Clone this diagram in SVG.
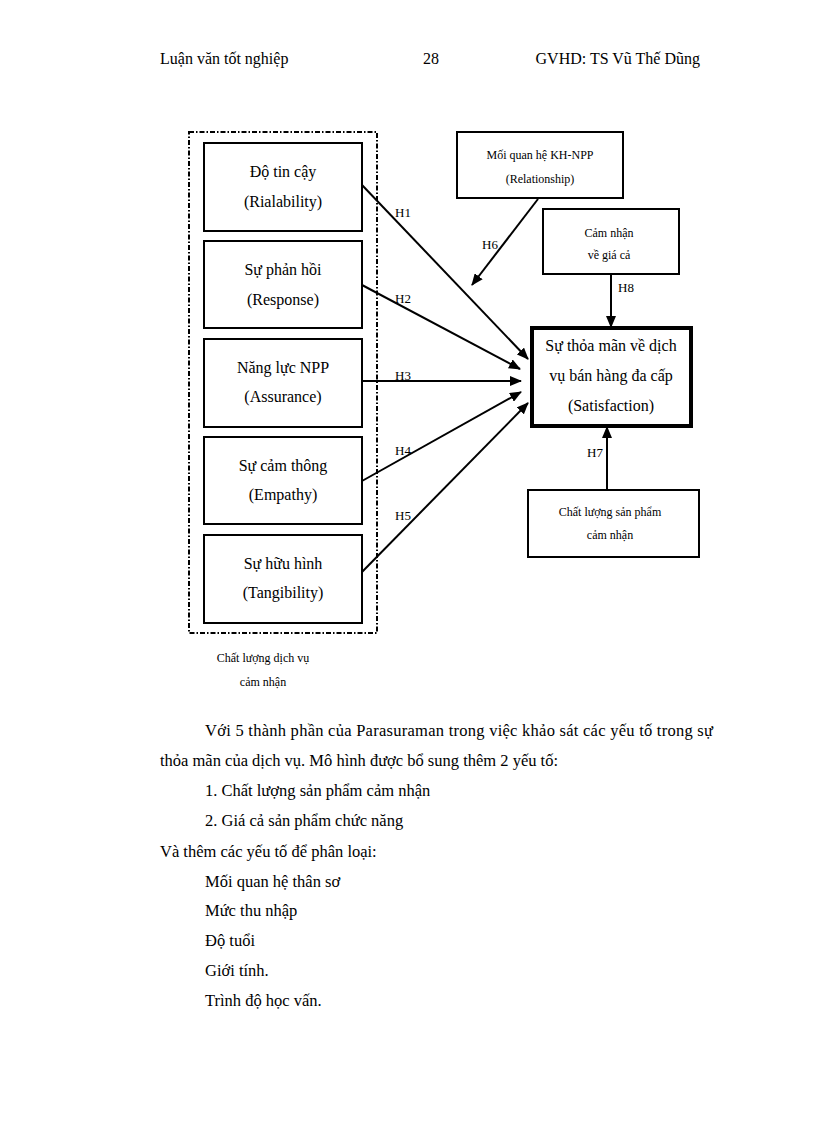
<svg xmlns="http://www.w3.org/2000/svg" width="816" height="1123" viewBox="0 0 816 1123">
<style>
text{font-family:"Liberation Serif","Times New Roman",serif;fill:#000}
.h{font-size:16px}
.n{font-size:16px;text-anchor:middle}
.s{font-size:12px;text-anchor:middle}
.l{font-size:13px}
.b{font-size:16.5px}
.box{fill:#fff;stroke:#000;stroke-width:2}
.c{stroke:#000;stroke-width:2;fill:none;marker-end:url(#ah)}
</style>
<defs>
<marker id="ah" viewBox="0 0 12 10" refX="11" refY="5" markerWidth="12" markerHeight="10" markerUnits="userSpaceOnUse" orient="auto">
<path d="M0,0 L12,5 L0,10 Z" fill="#000"/>
</marker>
</defs>
<rect width="816" height="1123" fill="#fff"/>
<g id="header">
<text class="h" x="160" y="64">Luận văn tốt nghiệp</text>
<text class="h" x="423" y="64">28</text>
<text class="h" x="700" y="64" text-anchor="end">GVHD: TS Vũ Thế Dũng</text>
</g>
<g id="group-service-quality">
<rect x="189" y="132" width="188" height="501" fill="none" stroke="#000" stroke-width="2" stroke-dasharray="5,2,1.5,2"/>
<text class="s" x="263" y="662">Chất lượng dịch vụ</text>
<text class="s" x="263" y="686">cảm nhận</text>
</g>
<g id="n-reliability"><rect class="box" x="204" y="143" width="158" height="88"/><text class="n" x="283" y="177">Độ tin cậy</text><text class="n" x="283" y="207">(Rialability)</text></g>
<g id="n-response"><rect class="box" x="204" y="241" width="158" height="87"/><text class="n" x="283" y="275">Sự phản hồi</text><text class="n" x="283" y="305">(Response)</text></g>
<g id="n-assurance"><rect class="box" x="204" y="339" width="158" height="88"/><text class="n" x="283" y="373">Năng lực NPP</text><text class="n" x="283" y="402">(Assurance)</text></g>
<g id="n-empathy"><rect class="box" x="204" y="437" width="158" height="87"/><text class="n" x="283" y="471">Sự cảm thông</text><text class="n" x="283" y="500">(Empathy)</text></g>
<g id="n-tangibility"><rect class="box" x="204" y="535" width="158" height="88"/><text class="n" x="283" y="569">Sự hữu hình</text><text class="n" x="283" y="598">(Tangibility)</text></g>
<g id="n-relationship"><rect class="box" x="457" y="132" width="166" height="66"/><text class="s" x="540" y="159">Mối quan hệ KH-NPP</text><text class="s" x="540" y="183">(Relationship)</text></g>
<g id="n-price"><rect class="box" x="543" y="209" width="136" height="65"/><text class="s" x="609" y="237">Cảm nhận</text><text class="s" x="609" y="259">về giá cả</text></g>
<g id="n-satisfaction"><rect x="532" y="328" width="159" height="98" fill="#fff" stroke="#000" stroke-width="4"/><text class="n" x="611" y="351">Sự thỏa mãn về dịch</text><text class="n" x="611" y="381">vụ bán hàng đa cấp</text><text class="n" x="611" y="411">(Satisfaction)</text></g>
<g id="n-product"><rect class="box" x="528" y="490" width="171" height="67"/><text class="s" x="610" y="516">Chất lượng sản phẩm</text><text class="s" x="610" y="539">cảm nhận</text></g>
<g id="connectors">
<line class="c" x1="362" y1="185" x2="528" y2="359"/>
<line class="c" x1="362" y1="285" x2="520" y2="369"/>
<line class="c" x1="362" y1="381" x2="521" y2="381"/>
<line class="c" x1="362" y1="481" x2="521" y2="392"/>
<line class="c" x1="362" y1="572" x2="528" y2="403"/>
<line class="c" x1="538" y1="199" x2="472" y2="285"/>
<line class="c" x1="611" y1="274" x2="611" y2="327"/>
<line class="c" x1="607" y1="490" x2="607" y2="427"/>
<text class="l" x="395" y="217">H1</text>
<text class="l" x="395" y="303">H2</text>
<text class="l" x="395" y="380">H3</text>
<text class="l" x="395" y="455">H4</text>
<text class="l" x="395" y="520">H5</text>
<text class="l" x="482" y="249">H6</text>
<text class="l" x="587" y="457">H7</text>
<text class="l" x="618" y="292">H8</text>
</g>
<g id="body">
<text class="b" x="205" y="736" textLength="508" lengthAdjust="spacing">Với 5 thành phần của Parasuraman trong việc khảo sát các yếu tố trong sự</text>
<text class="b" x="160" y="766">thỏa mãn của dịch vụ. Mô hình được bổ sung thêm 2 yếu tố:</text>
<text class="b" x="205" y="796">1. Chất lượng sản phẩm cảm nhận</text>
<text class="b" x="205" y="826">2. Giá cả sản phẩm chức năng</text>
<text class="b" x="160" y="857">Và thêm các yếu tố để phân loại:</text>
<text class="b" x="205" y="887">Mối quan hệ thân sơ</text>
<text class="b" x="205" y="916">Mức thu nhập</text>
<text class="b" x="205" y="946">Độ tuổi</text>
<text class="b" x="205" y="976">Giới tính.</text>
<text class="b" x="205" y="1006">Trình độ học vấn.</text>
</g>
</svg>
